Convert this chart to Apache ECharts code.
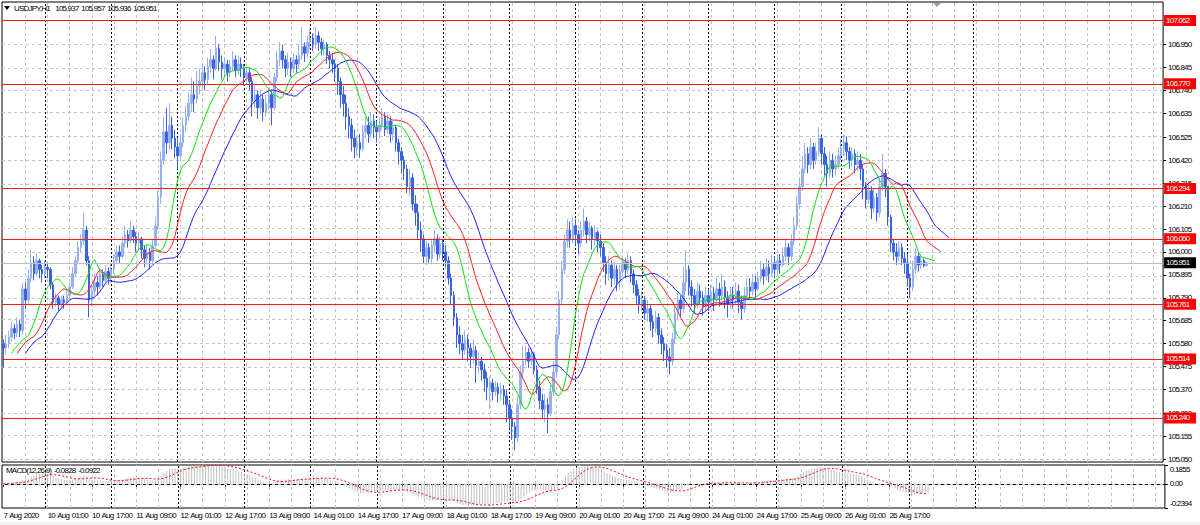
<!DOCTYPE html>
<html><head><meta charset="utf-8">
<script src="https://cdn.jsdelivr.net/npm/echarts@6/dist/echarts.min.js"></script>
<style>html,body{margin:0;padding:0;background:#fff}#c{width:1200px;height:525px}#c svg text{letter-spacing:-0.8px;word-spacing:1.3px}</style>
</head><body><div id="c"></div>
<script>
const tickLabels = ['7 Aug 2020','10 Aug 01:00','10 Aug 17:00','11 Aug 09:00','12 Aug 01:00','12 Aug 17:00','13 Aug 09:00','14 Aug 01:00','14 Aug 17:00','17 Aug 09:00','18 Aug 01:00','18 Aug 17:00','19 Aug 09:00','20 Aug 01:00','20 Aug 17:00','21 Aug 09:00','24 Aug 01:00','24 Aug 17:00','25 Aug 09:00','26 Aug 01:00','26 Aug 17:00'];
const firstOpen = 105.58;
const closes = [
105.56,105.58,105.61,105.65,105.63,105.67,105.64,105.83,
105.78,105.88,105.95,105.90,105.96,105.92,105.90,105.93,
105.92,105.85,105.77,105.79,105.76,105.78,105.77,105.80,
105.84,105.90,105.96,106.02,106.05,106.10,105.96,105.78,
105.82,105.86,105.84,105.90,105.87,105.91,105.88,105.92,
105.96,106.00,105.98,106.04,106.08,106.05,106.10,106.07,
106.04,106.06,106.01,105.97,106.00,105.96,106.03,106.12,
106.25,106.42,106.55,106.50,106.58,106.52,106.48,106.44,
106.50,106.58,106.62,106.68,106.72,106.70,106.76,106.78,
106.82,106.79,106.85,106.88,106.84,106.93,106.87,106.84,
106.86,106.82,106.85,106.88,106.83,106.86,106.84,106.80,
106.82,106.78,106.69,106.72,106.66,106.70,106.64,106.68,
106.72,106.66,106.80,106.88,106.92,106.88,106.84,106.87,
106.84,106.88,106.86,106.90,106.94,106.91,106.96,106.98,
106.95,106.99,106.96,106.93,106.95,106.90,106.88,106.86,
106.84,106.78,106.72,106.68,106.62,106.58,106.52,106.48,
106.50,106.47,106.55,106.58,106.54,106.60,106.57,106.55,
106.58,106.62,106.56,106.60,106.54,106.57,106.50,106.46,
106.42,106.38,106.30,106.34,106.22,106.18,106.10,106.06,
105.98,106.02,105.97,106.03,106.06,105.99,106.04,106.00,
105.96,105.88,105.80,105.70,105.62,105.58,105.55,105.60,
105.56,105.52,105.55,105.48,105.50,105.46,105.42,105.38,
105.40,105.36,105.38,105.35,105.37,105.34,105.30,105.24,
105.20,105.15,105.30,105.45,105.50,105.54,105.50,105.53,
105.46,105.38,105.32,105.28,105.30,105.26,105.36,105.45,
105.62,105.78,105.92,106.05,106.10,106.06,106.12,106.08,
106.04,106.10,106.14,106.08,106.11,106.06,106.09,106.05,
106.02,105.95,105.90,105.94,105.88,105.92,105.86,105.91,
105.95,105.92,105.96,105.90,105.85,105.80,105.76,105.78,
105.72,105.74,105.68,105.65,105.70,105.62,105.58,105.55,
105.52,105.50,105.60,105.72,105.78,105.74,105.86,105.92,
105.84,105.80,105.76,105.82,105.79,105.75,105.80,105.77,
105.81,105.78,105.83,105.80,105.84,105.79,105.76,105.80,
105.78,105.82,105.77,105.74,105.80,105.84,105.82,105.86,
105.83,105.88,105.92,105.89,105.93,105.90,105.95,105.92,
105.96,105.94,105.98,106.02,105.98,106.05,106.12,106.22,
106.30,106.38,106.45,106.40,106.48,106.42,106.46,106.52,
106.45,106.40,106.36,106.42,106.38,106.40,106.44,106.48,
106.50,106.46,106.42,106.45,106.40,106.42,106.38,106.30,
106.24,106.28,106.20,106.25,106.18,106.30,106.36,106.30,
106.16,106.04,106.00,105.98,106.02,105.97,105.95,105.88,
105.84,105.92,105.98,105.94,105.96,105.937,105.951];
const highs = [
105.60,105.62,105.64,105.68,105.67,105.70,105.69,105.86,
105.86,105.92,106.01,105.98,105.99,105.97,105.94,105.96,
105.95,105.93,105.86,105.81,105.80,105.80,105.80,105.83,
105.86,105.93,105.98,106.05,106.08,106.18,106.12,105.98,
105.85,105.90,105.89,105.93,105.92,105.94,105.93,105.95,
105.99,106.03,106.03,106.07,106.12,106.10,106.14,106.12,
106.09,106.09,106.07,106.03,106.03,106.02,106.06,106.16,
106.28,106.46,106.62,106.66,106.68,106.62,106.56,106.52,
106.54,106.62,106.67,106.73,106.80,106.78,106.83,106.84,
106.86,106.85,106.89,106.93,106.90,106.99,106.95,106.90,
106.89,106.88,106.88,106.92,106.90,106.90,106.89,106.86,
106.85,106.84,106.80,106.76,106.74,106.74,106.72,106.72,
106.75,106.74,106.82,106.92,106.96,106.95,106.90,106.91,
106.89,106.91,106.90,106.95,107.03,106.96,106.99,107.02,
107.00,107.03,107.01,106.98,106.97,106.96,106.92,106.91,
106.88,106.86,106.80,106.76,106.72,106.66,106.61,106.56,
106.53,106.54,106.58,106.62,106.62,106.64,106.63,106.60,
106.61,106.66,106.64,106.63,106.62,106.60,106.58,106.52,
106.48,106.44,106.40,106.38,106.36,106.26,106.22,106.14,
106.08,106.05,106.04,106.06,106.10,106.08,106.07,106.06,
106.03,105.98,105.90,105.82,105.72,105.66,105.62,105.64,
105.62,105.58,105.60,105.57,105.54,105.52,105.49,105.45,
105.43,105.42,105.41,105.40,105.40,105.39,105.37,105.32,
105.28,105.22,105.34,105.48,105.57,105.57,105.56,105.56,
105.54,105.48,105.41,105.35,105.35,105.33,105.40,105.50,
105.66,105.82,105.96,106.08,106.15,106.14,106.16,106.15,
106.10,106.14,106.20,106.16,106.14,106.12,106.12,106.10,
106.08,106.04,105.98,105.98,105.96,105.95,105.94,105.94,
105.98,105.97,105.99,105.98,105.92,105.87,105.83,105.82,
105.80,105.78,105.76,105.71,105.73,105.72,105.65,105.61,
105.58,105.56,105.63,105.75,105.82,105.80,105.93,106.01,
105.94,105.87,105.83,105.86,105.85,105.82,105.84,105.83,
105.85,105.84,105.88,105.86,105.90,105.87,105.82,105.84,
105.84,105.86,105.85,105.80,105.84,105.88,105.88,105.90,
105.89,105.91,105.96,105.95,105.97,105.96,105.99,105.98,
105.99,105.99,106.02,106.06,106.04,106.08,106.16,106.26,
106.34,106.44,106.50,106.48,106.52,106.50,106.50,106.57,
106.54,106.48,106.44,106.46,106.45,106.44,106.48,106.52,
106.54,106.53,106.48,106.48,106.47,106.46,106.45,106.40,
106.32,106.32,106.30,106.29,106.27,106.34,106.45,106.38,
106.30,106.17,106.06,106.04,106.05,106.04,106.00,105.99,
105.90,105.96,106.02,106.00,105.99,105.97,105.957];
const lows = [
105.47,105.53,105.56,105.59,105.60,105.61,105.61,105.62,
105.74,105.76,105.86,105.87,105.89,105.88,105.86,105.88,
105.88,105.83,105.74,105.75,105.73,105.74,105.74,105.76,
105.79,105.83,105.89,105.95,106.00,106.03,105.94,105.70,
105.75,105.80,105.80,105.83,105.84,105.86,105.85,105.86,
105.90,105.95,105.95,105.97,106.02,106.02,106.04,106.04,
106.00,106.01,105.97,105.93,105.95,105.92,105.95,106.02,
106.10,106.22,106.40,106.45,106.47,106.47,106.43,106.38,
106.42,106.48,106.55,106.60,106.64,106.64,106.68,106.72,
106.75,106.74,106.77,106.82,106.79,106.83,106.83,106.79,
106.80,106.78,106.80,106.83,106.80,106.81,106.80,106.76,
106.78,106.74,106.62,106.66,106.61,106.63,106.60,106.62,
106.65,106.58,106.65,106.78,106.85,106.84,106.80,106.81,
106.80,106.82,106.82,106.84,106.88,106.87,106.89,106.93,
106.92,106.93,106.92,106.90,106.90,106.86,106.84,106.82,
106.78,106.72,106.66,106.62,106.56,106.52,106.46,106.43,
106.44,106.43,106.46,106.52,106.50,106.52,106.52,106.50,
106.52,106.56,106.53,106.54,106.50,106.51,106.46,106.40,
106.36,106.33,106.27,106.26,106.19,106.12,106.06,106.00,
105.95,105.94,105.95,105.95,106.00,105.96,105.97,105.96,
105.93,105.85,105.76,105.66,105.56,105.53,105.51,105.53,
105.50,105.47,105.49,105.40,105.44,105.41,105.36,105.32,
105.28,105.32,105.34,105.31,105.32,105.30,105.22,105.19,
105.14,105.09,105.13,105.28,105.42,105.48,105.47,105.48,
105.44,105.35,105.28,105.24,105.22,105.17,105.25,105.34,
105.43,105.60,105.76,105.90,106.02,106.02,106.04,106.03,
105.99,106.02,106.07,106.04,106.05,106.01,106.03,106.00,
105.98,105.91,105.85,105.87,105.84,105.85,105.82,105.83,
105.89,105.88,105.90,105.86,105.81,105.76,105.72,105.73,
105.69,105.68,105.64,105.61,105.63,105.58,105.53,105.50,
105.47,105.44,105.48,105.58,105.69,105.70,105.72,105.82,
105.80,105.75,105.72,105.74,105.76,105.71,105.73,105.73,
105.74,105.73,105.76,105.75,105.78,105.74,105.70,105.74,
105.74,105.76,105.72,105.69,105.72,105.78,105.78,105.80,
105.79,105.82,105.86,105.85,105.87,105.86,105.89,105.88,
105.90,105.90,105.93,105.96,105.94,105.96,106.03,106.10,
106.20,106.28,106.36,106.36,106.38,106.38,106.40,106.44,
106.40,106.35,106.30,106.34,106.34,106.35,106.38,106.42,
106.44,106.42,106.38,106.39,106.36,106.37,106.33,106.24,
106.20,106.22,106.15,106.18,106.14,106.16,106.28,106.25,
106.12,106.00,105.96,105.94,105.96,105.94,105.90,105.84,
105.79,105.82,105.90,105.91,105.92,105.93,105.936];
const levels = [107.062,106.770,106.294,106.060,105.761,105.514,105.240];
const bidPrice = 105.951;
const priceTicks = [106.950,106.845,106.740,106.635,106.525,106.420,106.315,106.210,106.105,106.000,105.895,105.790,105.685,105.580,105.475,105.370,105.260,105.155,105.050];
const macdTicks = [0.1855, 0, -0.2394];
const titleText = 'USDJPY,H1  105.937 105.957 105.936 105.951';
const macdText = 'MACD(12,26,9) -0.0828 -0.0922';

const SLOTS = 420;
const FONT = "'Liberation Sans',Arial,sans-serif";
const cats = Array.from({length: SLOTS}, (_, i) => String(i));
const ohlc = closes.map((c, i) => {
  const o = i === 0 ? firstOpen : closes[i - 1];
  return [o, c, Math.min(lows[i], o, c), Math.max(highs[i], o, c)];
});
// Alligator (SMMA of median price, shifted) and MACD(12,26,9) computed from the bars
function smma(src, n) { const out = []; let s = 0; for (let i = 0; i < src.length; i++) { if (i < n) { s += src[i]; out.push(s / (i + 1)); } else { out.push((out[i - 1] * (n - 1) + src[i]) / n); } } return out; }
function shifted(arr, sh) { const out = new Array(SLOTS).fill(null); arr.forEach((v, i) => { if (i + sh < SLOTS) out[i + sh] = +v.toFixed(4); }); return out; }
const median = ohlc.map(d => (d[2] + d[3]) / 2);
const jaw = shifted(smma(median, 13), 8);
const teeth = shifted(smma(median, 8), 5);
const lips = shifted(smma(median, 5), 3);
function ema(src, n) { const k = 2 / (n + 1); const out = []; src.forEach((v, i) => out.push(i ? out[i - 1] + k * (v - out[i - 1]) : v)); return out; }
const e12 = ema(closes, 12), e26 = ema(closes, 26);
const macd = closes.map((_, i) => +(e12[i] - e26[i]).toFixed(4));
const signal = macd.map((_, i) => { const a = macd.slice(Math.max(0, i - 8), i + 1); return +(a.reduce((s, v) => s + v, 0) / a.length).toFixed(4); });

// grid line positions (every 8 bars, day separators every 24 bars from 10 Aug 00:00)
const grayV = []; for (let i = 8; i < SLOTS; i += 8) grayV.push(i);
const dayV = []; for (let i = 15; i <= 351; i += 24) dayV.push(i);
const grayStyle = {color: '#c4c4c4', width: 1, type: [3, 3]};
const dayStyle = {color: '#000', width: 1, type: [2, 2]};
const vLines = grayV.map(i => ({xAxis: i, lineStyle: grayStyle})).concat(dayV.map(i => ({xAxis: i, lineStyle: dayStyle})));

const yMin = 107.062 - 442 / 218.4, yMax = 107.062 + 18 / 218.4;
const tickInterval = (idx) => idx % 16 === 0 && idx / 16 < tickLabels.length;
const txt = {fontSize: 8, color: '#000', fontFamily: FONT};

const chart = echarts.init(document.getElementById('c'), null, {renderer: 'svg'});
chart.setOption({
  animation: false,
  backgroundColor: '#fff',
  grid: [
    {left: 2, right: 29, top: 2, height: 460, show: true, borderColor: '#000', borderWidth: 1, backgroundColor: '#fff'},
    {left: 2, right: 29, top: 465, height: 43, show: true, borderColor: '#000', borderWidth: 1, backgroundColor: '#fff'}
  ],
  xAxis: [
    {type: 'category', gridIndex: 0, data: cats, boundaryGap: true, show: false},
    {type: 'category', gridIndex: 1, data: cats, boundaryGap: true,
      axisLine: {show: true, lineStyle: {color: '#000'}},
      axisTick: {show: true, alignWithLabel: true, length: 3, interval: tickInterval, lineStyle: {color: '#000'}},
      axisLabel: Object.assign({show: true, interval: 15, hideOverlap: false, showMaxLabel: false, align: 'left', margin: 3,
        formatter: (v) => tickLabels[Number(v) / 16] || ''}, txt),
      splitLine: {show: false}}
  ],
  yAxis: [
    {type: 'value', gridIndex: 0, position: 'right', min: yMin, max: yMax, scale: true,
      axisLine: {show: false}, splitLine: {show: false},
      axisTick: {show: true, customValues: priceTicks, length: 3, lineStyle: {color: '#000'}},
      axisLabel: Object.assign({customValues: priceTicks, margin: 5, formatter: v => v.toFixed(3)}, txt)},
    {type: 'value', gridIndex: 1, position: 'right', min: -0.2394, max: 0.1855,
      axisLine: {show: false}, splitLine: {show: false},
      axisTick: {show: true, customValues: macdTicks, length: 3, lineStyle: {color: '#000'}},
      axisLabel: Object.assign({customValues: macdTicks, margin: 5,
        formatter: v => v === 0 ? '0.00' : (v > 0 ? '{top|' + v.toFixed(4) + '}' : '{bot|' + v.toFixed(4) + '}'),
        rich: {top: {fontSize: 8, fontFamily: FONT, color: '#000', padding: [9, 0, 0, 0]},
               bot: {fontSize: 8, fontFamily: FONT, color: '#000', padding: [0, 0, 9, 0]}}}, txt)}
  ],
  series: [
    {type: 'line', xAxisIndex: 0, yAxisIndex: 0, data: [], silent: true,
      markLine: {silent: true, symbol: 'none', animation: false, z: 1, label: {show: false},
        data: priceTicks.map(v => ({yAxis: v, lineStyle: grayStyle})).concat(vLines)}},
    {type: 'candlestick', xAxisIndex: 0, yAxisIndex: 0, data: ohlc, barWidth: 2, z: 2,
      itemStyle: {color: '#97b0f0', color0: '#3a63dc', borderColor: '#97b0f0', borderColor0: '#3a63dc', borderWidth: 1},
      markLine: {silent: true, symbol: 'none', animation: false, z: 6,
        data: levels.map(v => ({yAxis: v, lineStyle: {color: '#ff1a1a', width: 1, type: 'solid'},
          label: Object.assign({show: true, position: 'end', distance: 1, formatter: v.toFixed(3), backgroundColor: '#ff0000', padding: [2, 1, 1, 2]}, txt, {color: '#fff'})}))
          .concat([{yAxis: bidPrice, lineStyle: {color: '#bdbdbd', width: 1, type: 'solid'},
            label: Object.assign({show: true, position: 'end', distance: 1, formatter: bidPrice.toFixed(3), backgroundColor: '#000', padding: [2, 1, 1, 2]}, txt, {color: '#fff'})}])}},
    {type: 'line', name: 'Jaw', xAxisIndex: 0, yAxisIndex: 0, data: jaw, showSymbol: false, symbol: 'none', z: 3, lineStyle: {color: '#2020ff', width: 1}},
    {type: 'line', name: 'Teeth', xAxisIndex: 0, yAxisIndex: 0, data: teeth, showSymbol: false, symbol: 'none', z: 3, lineStyle: {color: '#ff2020', width: 1}},
    {type: 'line', name: 'Lips', xAxisIndex: 0, yAxisIndex: 0, data: lips, showSymbol: false, symbol: 'none', z: 3, lineStyle: {color: '#10e010', width: 1}},
    {type: 'line', xAxisIndex: 1, yAxisIndex: 1, data: [], silent: true,
      markLine: {silent: true, symbol: 'none', animation: false, z: 1, label: {show: false},
        data: [{yAxis: 0, lineStyle: grayStyle}].concat(vLines)}},
    {type: 'bar', name: 'MACD', xAxisIndex: 1, yAxisIndex: 1, data: macd, barWidth: 1, z: 2, itemStyle: {color: '#c0c0c0'}},
    {type: 'line', name: 'Signal', xAxisIndex: 1, yAxisIndex: 1, data: signal, showSymbol: false, symbol: 'none', z: 3,
      lineStyle: {color: '#ff0000', width: 1, type: [2, 2]}}
  ],
  graphic: [
    {type: 'polygon', z: 100, shape: {points: [[4, 6], [10, 6], [7, 10]]}, style: {fill: '#000'}},
    {type: 'text', z: 100, left: 14, top: 4, style: {text: titleText, fontSize: 8, fill: '#000', fontFamily: FONT}},
    {type: 'text', z: 100, left: 6, top: 466, style: {text: macdText, fontSize: 8, fill: '#000', fontFamily: FONT}},
    {type: 'polygon', z: 100, shape: {points: [[933, 3], [941, 3], [937, 7]]}, style: {fill: '#a0a0a0'}},
    {type: 'rect', z: 100, shape: {x: 0, y: 522, width: 1200, height: 3}, style: {fill: '#f0f0f0'}}
  ]
});
</script></body></html>
